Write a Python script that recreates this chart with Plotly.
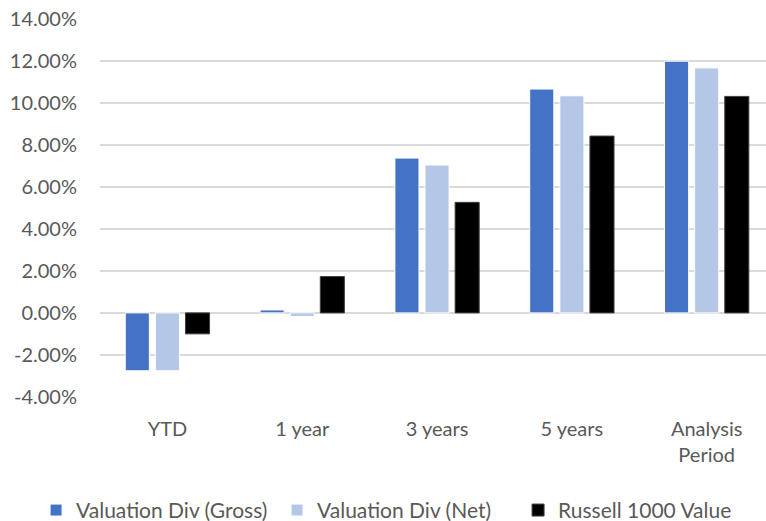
import plotly.graph_objects as go

categories = ["YTD", "1 year", "3 years", "5 years", "Analysis<br>Period"]
gross = [-2.76, 0.14, 7.38, 10.67, 12.00]
net = [-2.76, -0.17, 7.05, 10.35, 11.68]
russell = [-1.00, 1.73, 5.27, 8.43, 10.32]
series_names = ["Valuation Div (Gross)", "Valuation Div (Net)", "Russell 1000 Value"]
colors = ["#4472C4", "#B4C7E7", "#000000"]
line_colors = ["#FFFFFF", "#FFFFFF", "#404040"]
tick_vals = [-4, -2, 0, 2, 4, 6, 8, 10, 12, 14]
tick_text = [f"{v:.2f}%" for v in tick_vals]

fig = go.Figure()
for name, vals, c, lc in zip(series_names, [gross, net, russell], colors, line_colors):
    fig.add_trace(go.Bar(x=list(range(len(categories))), y=vals, name=name,
                         marker=dict(color=c, line=dict(color=lc, width=1))))

fig.update_layout(
    width=766, height=521,
    margin=dict(l=100, r=0, t=19, b=124, autoexpand=False),
    paper_bgcolor="white", plot_bgcolor="white",
    barmode="group", bargap=0.33, bargroupgap=0.2,
    font=dict(family="Lato, Open Sans, sans-serif", size=20, color="#595959"),
    showlegend=True,
    legend=dict(orientation="h", x=-0.096, xanchor="left", y=-0.3, yanchor="middle",
                font=dict(size=21, color="#595959"), itemwidth=30, traceorder="normal",
                entrywidth=196, entrywidthmode="pixels"),
)
fig.update_xaxes(range=[-0.5, 4.44], tickmode="array", tickvals=list(range(len(categories))),
                 ticktext=categories, showgrid=False, zeroline=False, showline=False,
                 ticks="", ticklabelstandoff=18, automargin=False)
fig.update_yaxes(range=[-4.01, 14.01], tickmode="array", tickvals=tick_vals, ticktext=tick_text,
                 showgrid=True, gridcolor="#D9D9D9", gridwidth=1.5, zeroline=True,
                 zerolinecolor="#D9D9D9", zerolinewidth=1.5, showline=False,
                 ticks="", ticklabelstandoff=22, automargin=False, ticklabeloverflow="allow")

fig.write_html("out.html", config={"displayModeBar": False},
               post_script="document.body.style.margin='0';")
